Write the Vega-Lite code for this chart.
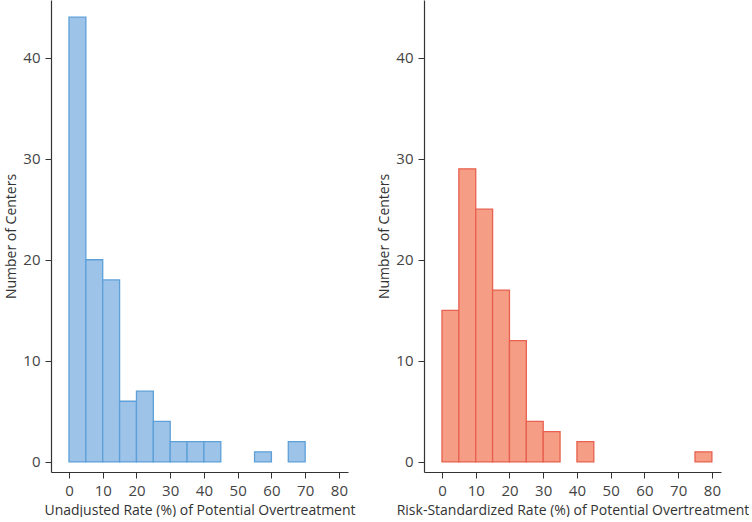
{
  "$schema": "https://vega.github.io/schema/vega-lite/v6.json",
  "padding": {"left": 4, "top": 0, "right": 0, "bottom": 0},
  "background": "white",
  "datasets": {
    "unadjusted": [
      {"start": 0, "end": 5, "count": 44},
      {"start": 5, "end": 10, "count": 20},
      {"start": 10, "end": 15, "count": 18},
      {"start": 15, "end": 20, "count": 6},
      {"start": 20, "end": 25, "count": 7},
      {"start": 25, "end": 30, "count": 4},
      {"start": 30, "end": 35, "count": 2},
      {"start": 35, "end": 40, "count": 2},
      {"start": 40, "end": 45, "count": 2},
      {"start": 55, "end": 60, "count": 1},
      {"start": 65, "end": 70, "count": 2}
    ],
    "standardized": [
      {"start": 0, "end": 5, "count": 15},
      {"start": 5, "end": 10, "count": 29},
      {"start": 10, "end": 15, "count": 25},
      {"start": 15, "end": 20, "count": 17},
      {"start": 20, "end": 25, "count": 12},
      {"start": 25, "end": 30, "count": 4},
      {"start": 30, "end": 35, "count": 3},
      {"start": 40, "end": 45, "count": 2},
      {"start": 75, "end": 80, "count": 1}
    ]
  },
  "config": {
    "view": {"stroke": null},
    "font": "Open Sans",
    "axis": {
      "grid": false,
      "domainColor": "#333333",
      "domainWidth": 1.2,
      "tickColor": "#333333",
      "tickSize": 6,
      "labelColor": "#444444",
      "labelFontSize": 15,
      "labelFont": "Open Sans",
      "titleFont": "Open Sans",
      "titleFontSize": 14,
      "titleFontWeight": "normal",
      "titleColor": "#333333",
      "labelPadding": 5
    }
  },
  "spacing": 21,
  "hconcat": [
    {
      "width": 297,
      "height": 472,
      "data": {"name": "unadjusted"},
      "mark": {"type": "bar", "fill": "#9DC3E8", "stroke": "#5DA0D8", "strokeWidth": 1.3},
      "encoding": {
        "x": {"field": "start", "type": "quantitative",
              "scale": {"domain": [-5.33, 82.7], "nice": false, "zero": false},
              "axis": {"values": [0, 10, 20, 30, 40, 50, 60, 70, 80], "title": "Unadjusted Rate (%) of Potential Overtreatment", "titlePadding": 5}},
        "x2": {"field": "end"},
        "y": {"field": "count", "type": "quantitative",
              "scale": {"domain": [-1, 45.7], "nice": false, "zero": false},
              "axis": {"values": [0, 10, 20, 30, 40], "title": "Number of Centers", "titlePadding": 4}},
        "y2": {"datum": 0}
      }
    },
    {
      "width": 297,
      "height": 472,
      "data": {"name": "standardized"},
      "mark": {"type": "bar", "fill": "#F59E85", "stroke": "#E8604F", "strokeWidth": 1.3},
      "encoding": {
        "x": {"field": "start", "type": "quantitative",
              "scale": {"domain": [-5.33, 82.7], "nice": false, "zero": false},
              "axis": {"values": [0, 10, 20, 30, 40, 50, 60, 70, 80], "title": "Risk-Standardized Rate (%) of Potential Overtreatment", "titlePadding": 5}},
        "x2": {"field": "end"},
        "y": {"field": "count", "type": "quantitative",
              "scale": {"domain": [-1, 45.7], "nice": false, "zero": false},
              "axis": {"values": [0, 10, 20, 30, 40], "title": "Number of Centers", "titlePadding": 4}},
        "y2": {"datum": 0}
      }
    }
  ]
}
